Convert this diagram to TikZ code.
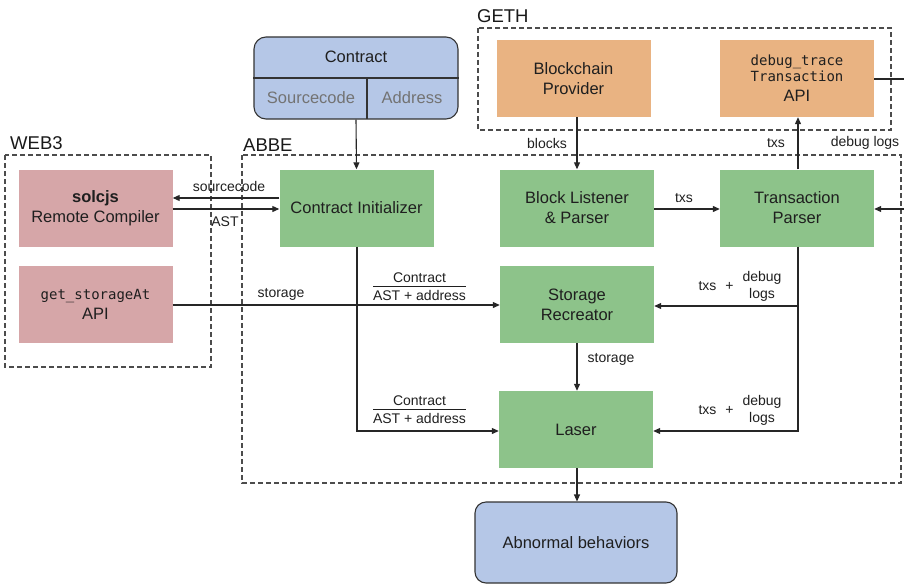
\documentclass[tikz,border=0pt]{standalone}
\usepackage{fontspec}
\setmainfont{Liberation Sans}
\newfontfamily\monof{DejaVu Sans Mono}
\usetikzlibrary{arrows.meta}
\definecolor{orangeb}{HTML}{E9B382}
\definecolor{greenb}{HTML}{8DC38A}
\definecolor{pinkb}{HTML}{D6A6A8}
\definecolor{blueb}{HTML}{B5C7E7}
\begin{document}
\begin{tikzpicture}[x=1pt,y=-1pt,
 box/.style={rectangle, minimum width=154pt, minimum height=77pt, inner sep=2pt, align=center, font=\fontsize{16.5}{20}\selectfont, text=black!88},
 gbox/.style={box, fill=greenb},
 obox/.style={box, fill=orangeb},
 pbox/.style={box, fill=pinkb},
 frame/.style={draw=black!70, dash pattern=on 5pt off 3pt, line width=1.1pt},
 grp/.style={font=\fontsize{18.5}{20}\selectfont, anchor=base west, inner sep=0pt, text=black!90},
 lbl/.style={font=\fontsize{14}{17}\selectfont, inner sep=1pt, text=black!88},
 arr/.style={draw=black!85, line width=1.1pt, -{Triangle[length=7pt,width=6pt]}},
 ln/.style={draw=black!85, line width=1.1pt}
]
\useasboundingbox (0,0) rectangle (904,586);

% group frames
\draw[frame] (478,28) rectangle (891,130);
\draw[frame] (5,155) rectangle (211,367);
\draw[frame] (242,155) rectangle (901,483);
\node[grp] (gethl) at (477,23) {GETH};
\node[grp] (web3l) at (10,149) {WEB3};
\node[grp] (abbel) at (243,151) {ABBE};

% contract
\node[draw=black!80, line width=1.1pt, fill=blueb, rounded corners=12pt, minimum width=204pt, minimum height=82pt, inner sep=0pt] (contract) at (356,78) {};
\draw[draw=black!80, line width=1.1pt] (contract.west |- 0,78) -- (contract.east |- 0,78);
\draw[draw=black!80, line width=1.1pt] (367,78) -- (367,119);
\node[font=\fontsize{16.5}{20}\selectfont, text=black!88] (ctitle) at (356,57) {Contract};
\node[font=\fontsize{16.5}{20}\selectfont, text=black!55] (csrc) at (311,98) {Sourcecode};
\node[font=\fontsize{16.5}{20}\selectfont, text=black!55] (caddr) at (412,98) {Address};

% boxes
\node[obox] (bp) at (573.5,78.5) {Blockchain\\Provider};
\node[obox] (dbg) at (797,78.5) {{\monof\fontsize{14}{15}\selectfont debug\_trace}\\[-4pt]{\monof\fontsize{14}{15}\selectfont Transaction}\\API};
\node[pbox] (solc) at (95.5,208) {\textbf{solcjs}\\Remote Compiler};
\node[pbox] (gsa) at (95.5,304.5) {{\monof\fontsize{14}{15}\selectfont get\_storageAt}\\API};
\node[gbox] (ci) at (356.5,208) {Contract Initializer};
\node[gbox] (bl) at (577,208) {Block Listener\\\& Parser};
\node[gbox] (tp) at (797,208) {Transaction\\Parser};
\node[gbox] (sr) at (577,304.5) {Storage\\Recreator};
\node[gbox] (laser) at (576,429.5) {Laser};
\node[draw=black!80, line width=1.1pt, fill=blueb, rounded corners=11pt, minimum width=202pt, minimum height=81pt, font=\fontsize{16.5}{20}\selectfont, text=black!88] (ab) at (576,542.5) {Abnormal behaviors};

% coordinates
\coordinate (rtop) at (904,79);
\coordinate (rmid) at (904,209);
\coordinate (cidown) at (357,431);
\coordinate (tpdown) at (798,431);

% connectors
\draw[arr] (contract.south) -- (ci.north);
\draw[arr] (ci.west |- 0,198) -- (solc.east |- 0,198);
\draw[arr] (solc.east |- 0,209) -- (ci.west |- 0,209);
\draw[arr] (gsa.east |- 0,305) -- (sr.west |- 0,305);
\draw[arr] (ci.south -| cidown) -- (cidown) -- (laser.west |- cidown);
\draw[arr] (bp.south -| 577,0) -- (bl.north);
\draw[arr] (bl.east |- 0,209) -- (tp.west |- 0,209);
\draw[arr] (tp.north -| 798,0) -- (dbg.south -| 798,0);
\draw[ln] (dbg.east |- rtop) -- (rtop);
\draw[arr] (rmid) -- (tp.east |- rmid);
\draw[arr] (tp.south -| tpdown) -- (tpdown) -- (laser.east |- tpdown);
\draw[arr] (tpdown |- 0,306) -- (sr.east |- 0,306);
\draw[arr] (sr.south) -- (sr.south |- laser.north);
\draw[arr] (laser.south -| 577,0) -- (ab.north -| 577,0);

% labels
\node[lbl] (lsrc) at (229,186) {sourcecode};
\node[lbl] (last) at (225,222) {AST};
\node[lbl] (lstor) at (281,294) {storage};
\node[lbl] (lc1) at (419.5,288) {\begin{tabular}{@{}c@{}}Contract\\[-1pt]\hline\rule{0pt}{14pt}AST + address\end{tabular}};
\node[lbl] (lc2) at (419.5,411) {\begin{tabular}{@{}c@{}}Contract\\[-1pt]\hline\rule{0pt}{14pt}AST + address\end{tabular}};
\node[lbl] (ltd1) at (740,287) {txs\hspace{9pt}+\hspace{9pt}\begin{tabular}{@{}c@{}}debug\\logs\end{tabular}};
\node[lbl] (ltd2) at (740,411) {txs\hspace{9pt}+\hspace{9pt}\begin{tabular}{@{}c@{}}debug\\logs\end{tabular}};
\node[lbl] (lstor2) at (611,359) {storage};
\node[lbl] (lblocks) at (547,143) {blocks};
\node[lbl] (ltxs1) at (776,143) {txs};
\node[lbl] (ldl) at (865,143) {debug logs};
\node[lbl] (ltxs2) at (684,198) {txs};
\end{tikzpicture}
\end{document}
